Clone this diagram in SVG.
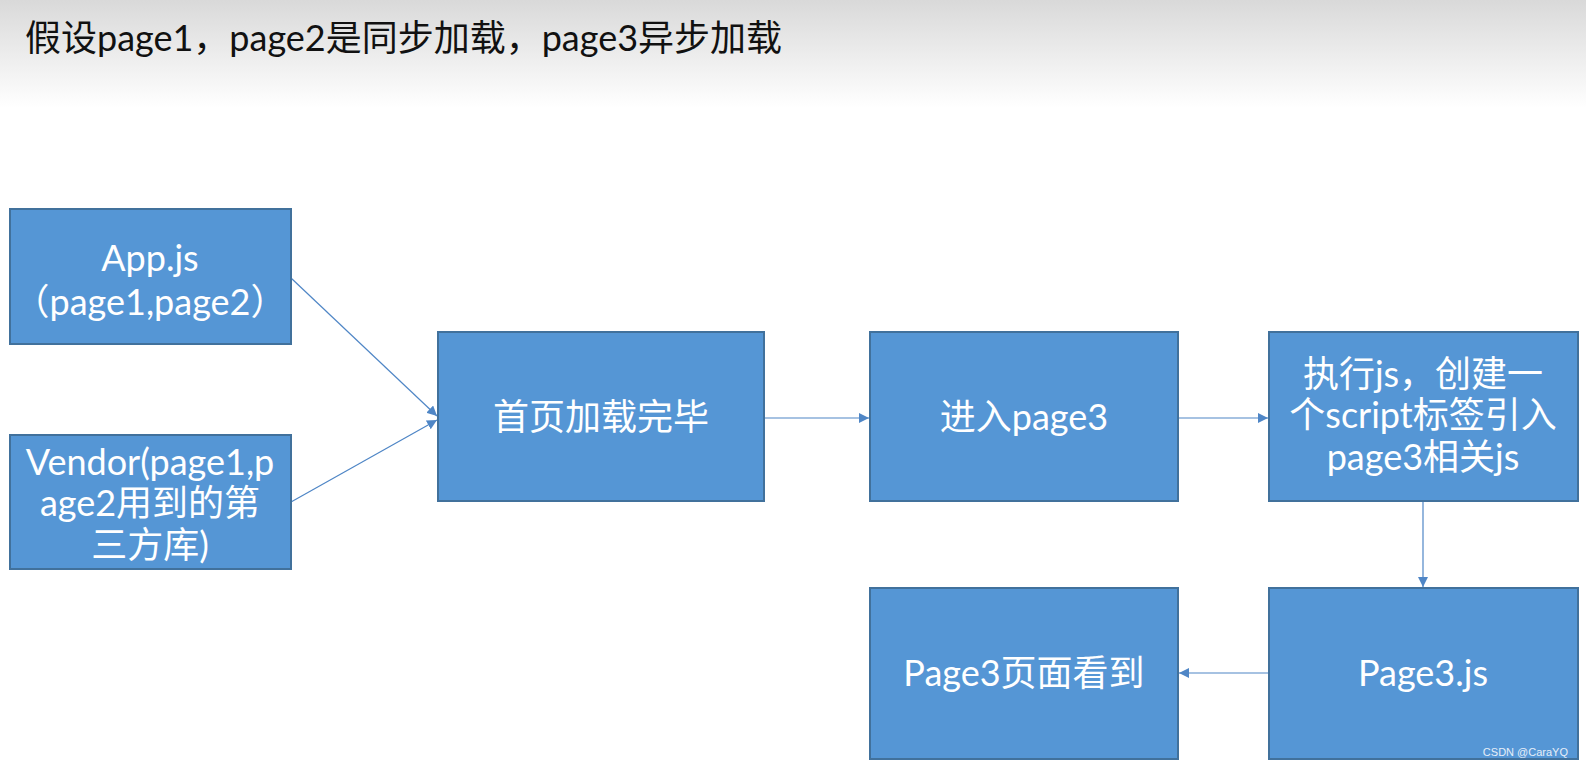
<svg xmlns="http://www.w3.org/2000/svg" width="1586" height="767" viewBox="0 0 1586 767">
<defs>
<linearGradient id="hdr" x1="0" y1="0" x2="0" y2="1">
<stop offset="0" stop-color="#d9d9d9"/>
<stop offset="1" stop-color="#ffffff"/>
</linearGradient>
<marker id="arr" viewBox="0 0 10 10" refX="10" refY="5" markerWidth="10" markerHeight="10" markerUnits="userSpaceOnUse" orient="auto">
<path d="M0,0 L10,5 L0,10 z" fill="#4f86c6"/>
</marker>
<style>
.box{fill:#5596d5;stroke:#41719c;stroke-width:2}
.t{font-family:Lato,"Noto Sans CJK SC",sans-serif;font-size:36px;fill:#ffffff;text-anchor:middle}
.c{fill:none;stroke:#4f86c6;stroke-width:1.2;marker-end:url(#arr)}
</style>
</defs>
<rect x="0" y="0" width="1586" height="767" fill="#ffffff"/>
<rect x="0" y="0" width="1586" height="108" fill="url(#hdr)"/>
<text x="25" y="51" font-family="Lato,'Noto Sans CJK SC',sans-serif" font-size="36" fill="#111111" textLength="757" lengthAdjust="spacingAndGlyphs">假设page1，page2是同步加载，page3异步加载</text>

<g id="connectors">
<line class="c" x1="291" y1="278" x2="437" y2="416"/>
<line class="c" x1="291" y1="502" x2="437" y2="420"/>
<line class="c" x1="764" y1="418" x2="869" y2="418"/>
<line class="c" x1="1178" y1="418" x2="1268" y2="418"/>
<line class="c" x1="1423" y1="502" x2="1423" y2="587"/>
<line class="c" x1="1268" y1="673" x2="1179" y2="673"/>
</g>

<g id="app">
<rect class="box" x="10" y="209" width="281" height="135"/>
<text class="t" x="150" y="271">App.js</text>
<text class="t" x="150" y="315">（page1,page2）</text>
</g>
<g id="vendor">
<rect class="box" x="10" y="435" width="281" height="134"/>
<text class="t" x="150" y="475">Vendor(page1,p</text>
<text class="t" x="150" y="516">age2用到的第</text>
<text class="t" x="150" y="558">三方库)</text>
</g>
<g id="home">
<rect class="box" x="438" y="332" width="326" height="169"/>
<text class="t" x="601" y="430">首页加载完毕</text>
</g>
<g id="enter">
<rect class="box" x="870" y="332" width="308" height="169"/>
<text class="t" x="1024" y="430">进入page3</text>
</g>
<g id="exec">
<rect class="box" x="1269" y="332" width="309" height="169"/>
<text class="t" x="1423" y="387">执行js，创建一</text>
<text class="t" x="1423" y="428">个script标签引入</text>
<text class="t" x="1423" y="470">page3相关js</text>
</g>
<g id="seen">
<rect class="box" x="870" y="588" width="308" height="171"/>
<text class="t" x="1024" y="686">Page3页面看到</text>
</g>
<g id="page3js">
<rect class="box" x="1269" y="588" width="309" height="171"/>
<text class="t" x="1423" y="686">Page3.js</text>
</g>
<text x="1568" y="756" text-anchor="end" font-family="'Liberation Sans',sans-serif" font-size="11" fill="#e6eef8">CSDN @CaraYQ</text>
</svg>
